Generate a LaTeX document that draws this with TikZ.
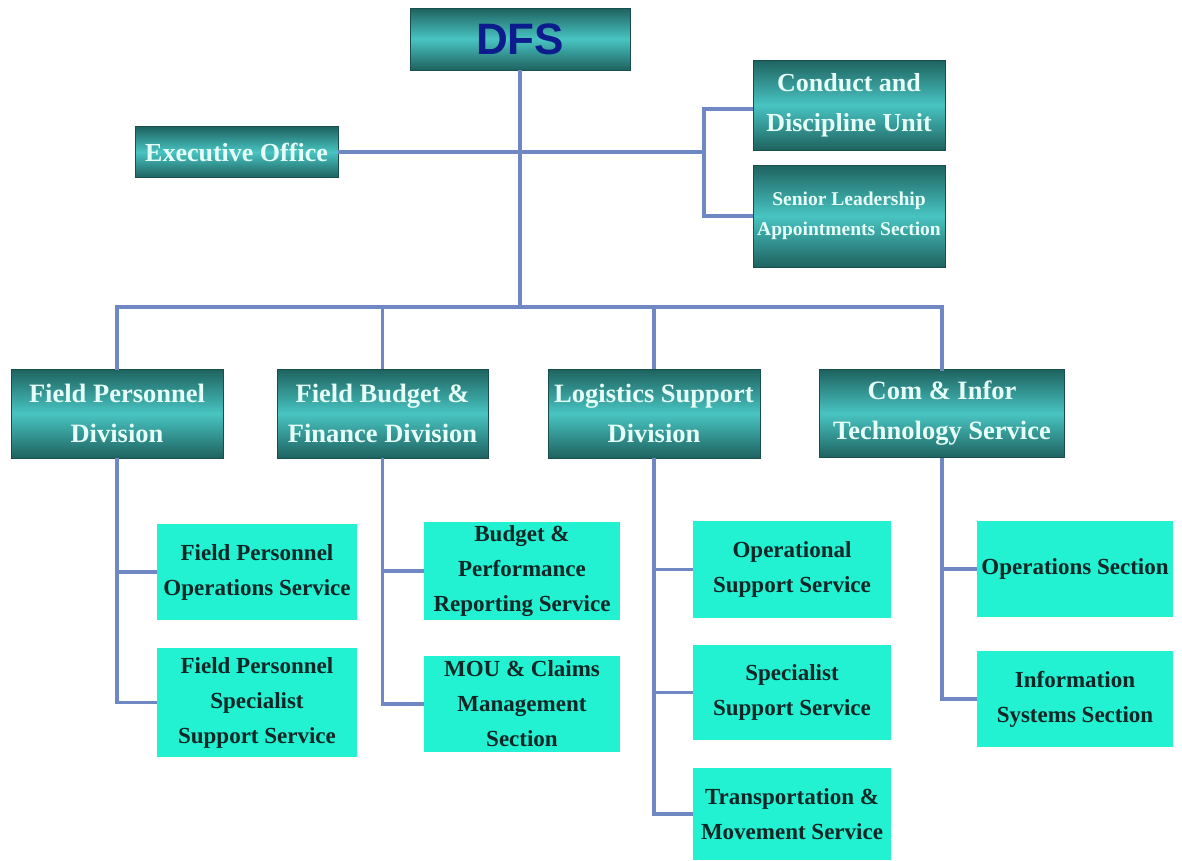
\documentclass[tikz,border=0pt]{standalone}
\usepackage{fontspec}
\setmainfont{Liberation Serif}
\newfontfamily\dfsfont{Liberation Sans}
\usetikzlibrary{positioning}
\definecolor{tealdark}{HTML}{1E625F}
\definecolor{teallight}{HTML}{48C4C2}
\definecolor{aqua}{HTML}{22F2D2}
\definecolor{linkblue}{HTML}{6F87C2}
\definecolor{navy}{HTML}{0C1C8C}
\definecolor{paletext}{HTML}{E6FFF8}
\definecolor{inktext}{HTML}{0E2626}
\tikzset{
	headbox/.style={draw=tealdark!80!black, line width=0.8pt, top color=tealdark, bottom color=tealdark, middle color=teallight, text=paletext, font=\bfseries, align=center, inner sep=0pt},
	subbox/.style={fill=aqua, text=inktext, font=\bfseries, align=center, inner sep=0pt},
	link/.style={draw=linkblue, line width=3.5pt}
}

\begin{document}
\begin{tikzpicture}[x=1pt, y=-1pt]
		%%%%% START %%%%%
		\useasboundingbox (0, 0) rectangle (1182, 860);
		
		% top of the chart
		\node[headbox, minimum width=220, minimum height=62, font=\dfsfont\bfseries\fontsize{44}{44}\selectfont, text=navy] (dfs) at (520, 39) {DFS};
		\node[headbox, minimum width=203, minimum height=51, font=\bfseries\fontsize{26}{32}\selectfont] (exec) at (236.5, 152) {Executive Office};
		\node[headbox, minimum width=192, minimum height=90, font=\bfseries\fontsize{26}{40}\selectfont] (cdu) at (849, 105) {Conduct and\\Discipline Unit};
		\node[headbox, minimum width=192, minimum height=102, font=\bfseries\fontsize{19.5}{30}\selectfont] (sla) at (849, 216) {Senior Leadership\\Appointments Section};
		
		% divisions
		\node[headbox, minimum width=212, minimum height=89, font=\bfseries\fontsize{26.5}{40}\selectfont] (fpd) at (117, 413.5) {Field Personnel\\Division};
		\node[headbox, minimum width=211, minimum height=89, font=\bfseries\fontsize{26.5}{40}\selectfont] (fbd) at (382.5, 413.5) {Field Budget \&\\Finance Division};
		\node[headbox, minimum width=212, minimum height=89, font=\bfseries\fontsize{26.5}{40}\selectfont] (lsd) at (654, 413.5) {Logistics Support\\Division};
		\node[headbox, minimum width=245, minimum height=88, font=\bfseries\fontsize{26.5}{40}\selectfont] (cits) at (942, 413.5) {Com \& Infor\\Technology Service};
		
		% services and sections
		\node[subbox, minimum width=200, minimum height=96, font=\bfseries\fontsize{23}{35}\selectfont] (fpo) at (257, 572) {Field Personnel\\Operations Service};
		\node[subbox, minimum width=200, minimum height=109, font=\bfseries\fontsize{23}{35}\selectfont] (fps) at (257, 702.5) {Field Personnel\\Specialist\\Support Service};
		\node[subbox, minimum width=196, minimum height=98, font=\bfseries\fontsize{23}{35}\selectfont] (bpr) at (522, 571) {Budget \&\\Performance\\Reporting Service};
		\node[subbox, minimum width=196, minimum height=96, font=\bfseries\fontsize{23}{35}\selectfont] (mou) at (522, 704) {MOU \& Claims\\Management\\Section};
		\node[subbox, minimum width=198, minimum height=97, font=\bfseries\fontsize{23}{35}\selectfont] (osv) at (792, 569.5) {Operational\\Support Service};
		\node[subbox, minimum width=198, minimum height=95, font=\bfseries\fontsize{23}{35}\selectfont] (ssv) at (792, 692.5) {Specialist\\Support Service};
		\node[subbox, minimum width=198, minimum height=92, font=\bfseries\fontsize{23}{35}\selectfont] (tms) at (792, 814) {Transportation \&\\Movement Service};
		\node[subbox, minimum width=196, minimum height=96, font=\bfseries\fontsize{23}{35}\selectfont] (ops) at (1075, 569) {Operations Section};
		\node[subbox, minimum width=196, minimum height=96, font=\bfseries\fontsize{23}{35}\selectfont] (iss) at (1075, 699) {Information\\Systems Section};
		
		% connectors
		\coordinate (bus) at (520, 307);
		\coordinate (brk) at (704, 152);
		\draw[link] (dfs.south) -- (bus);
		\draw[link] (exec.east) -- (brk);
		\draw[link] (cdu.west |- 0, 109) -| (brk) |- (sla.west);
		\draw[link, line cap=rect] (fpd.north) |- (bus) -| (cits.north);
		\draw[link] (fbd.north) -- (fbd.north |- bus);
		\draw[link] (lsd.north) -- (lsd.north |- bus);
		
		\draw[link] (fpd.south) |- (fpo.west);
		\draw[link] (fpd.south) |- (fps.west);
		\draw[link] (fbd.south) |- (bpr.west);
		\draw[link] (fbd.south) |- (mou.west);
		\draw[link] (lsd.south) |- (osv.west);
		\draw[link] (lsd.south) |- (ssv.west);
		\draw[link] (lsd.south) |- (tms.west);
		\draw[link] (cits.south) |- (ops.west);
		\draw[link] (cits.south) |- (iss.west);
		%%%%% END %%%%%
	\end{tikzpicture}
\end{document}
